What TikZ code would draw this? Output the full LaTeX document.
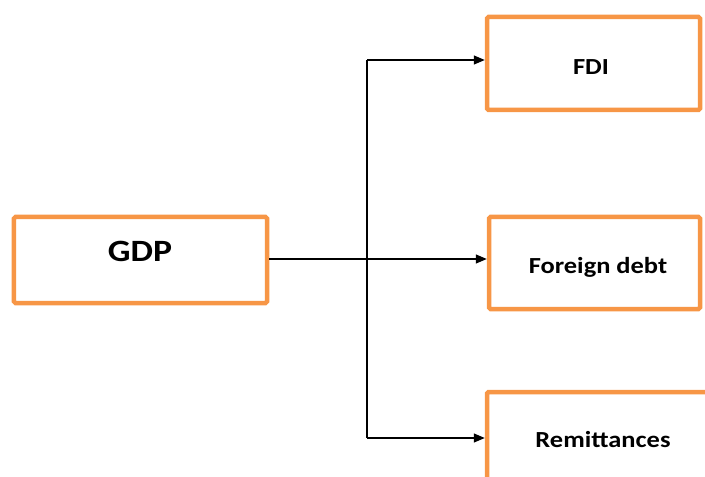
\documentclass[tikz,border=0pt]{standalone}
\usepackage{fontspec}
\setmainfont[FakeStretch=1.15]{Carlito}
\usetikzlibrary{arrows.meta}
\definecolor{boxorange}{HTML}{F79646}
\tikzset{
  box/.style={draw=boxorange, line width=4.5bp, rounded corners=1.5bp, inner sep=0pt, fill=white},
  lab/.style={font=\bfseries\fontsize{23bp}{27bp}\selectfont, anchor=base, inner sep=0pt},
  conn/.style={line width=1.3bp, draw=black},
  arr/.style={conn, -{Triangle[length=11bp,width=9bp]}}
}
\begin{document}
\begin{tikzpicture}[x=1bp,y=-1bp]
\useasboundingbox (0,0) rectangle (705,477);
\clip (0,0) rectangle (705,477);
% boxes
\node[box, minimum width=253bp, minimum height=86bp] (gdpbox) at (140.5,260) {};
\node[box, minimum width=213bp, minimum height=93bp] (fdi) at (593.5,63.5) {};
\node[box, minimum width=211bp, minimum height=92bp] (debt) at (594.5,263) {};
\node[box, minimum width=233bp, minimum height=108bp] (rem) at (603.5,446) {};
% labels
\node[lab, font=\bfseries\fontsize{31bp}{35bp}\selectfont] (gdpt) at (140,262) {GDP};
\node[lab] (fdit) at (591,75) {FDI};
\node[lab] (debtt) at (598,274) {Foreign debt};
\node[lab] (remt) at (603,447) {Remittances};
% connectors
\coordinate (j) at (367,259);
\coordinate (t1) at (367,60);
\coordinate (t3) at (367,438);
\draw[conn] (gdpbox.east |- j) -- (j);
\draw[conn] (t1) -- (t3);
\draw[arr] (t1) -- (t1 -| fdi.west);
\draw[arr] (j) -- (j -| debt.west);
\draw[arr] (t3) -- (t3 -| rem.west);
\end{tikzpicture}
\end{document}
